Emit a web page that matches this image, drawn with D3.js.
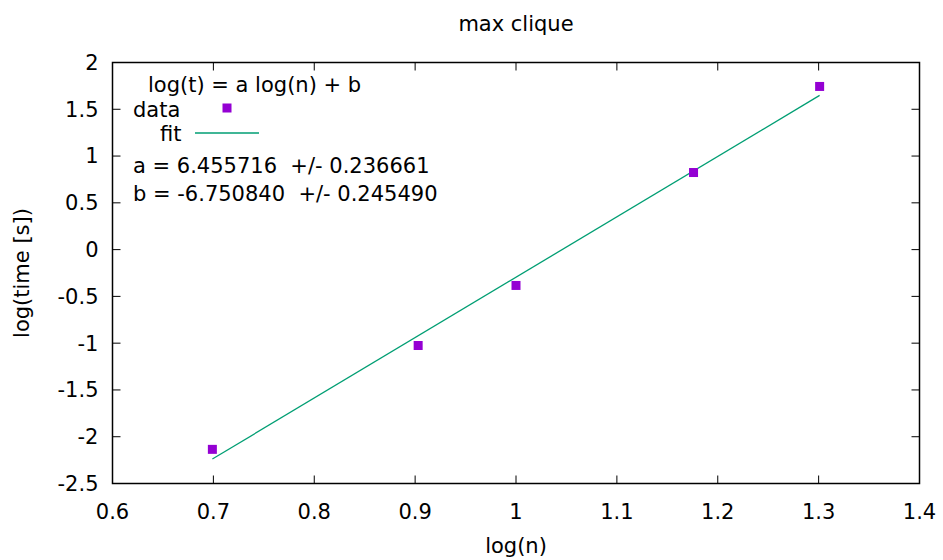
<!DOCTYPE html>
<html>
<head>
<meta charset="utf-8">
<script src="https://cdn.jsdelivr.net/npm/d3@7"></script>
<style>
  body { margin: 0; background: #fff; }
  text { font-family: "DejaVu Sans", sans-serif; font-size: 21px; fill: #000; }
</style>
</head>
<body>
<svg id="svg"></svg>
<script>
// data: log10(n) vs log10(time)
var logN = [0.699, 0.903, 1.0, 1.176, 1.301];
var logT = [-2.135, -1.025, -0.383, 0.824, 1.744];
// fit params
var fitA = 6.455716, fitAerr = 0.236661;
var fitB = -6.750840, fitBerr = 0.245490;
var xTicks = [0.6, 0.7, 0.8, 0.9, 1, 1.1, 1.2, 1.3, 1.4];
var yTicks = [-2.5, -2, -1.5, -1, -0.5, 0, 0.5, 1, 1.5, 2];

var width = 943, height = 560;
var margin = {left: 112.5, right: 23.5, top: 62.5, bottom: 76.5};
var w = width - margin.left - margin.right;
var h = height - margin.top - margin.bottom;

var svg = d3.select("#svg").attr("width", width).attr("height", height);
var container = svg.append("g").attr("transform", `translate(${margin.left}, ${margin.top})`);

var xScale = d3.scaleLinear().domain([0.6, 1.4]).range([0, w]);
var yScale = d3.scaleLinear().domain([-2.5, 2]).range([h, 0]);

// ticks (inward, mirrored)
var tl = 8;
xTicks.forEach(function(t) {
    var x = xScale(t);
    container.append("line").attr("x1", x).attr("x2", x).attr("y1", h).attr("y2", h - tl).attr("stroke", "#000");
    container.append("line").attr("x1", x).attr("x2", x).attr("y1", 0).attr("y2", tl).attr("stroke", "#000");
    container.append("text").attr("x", x).attr("y", h + 35).attr("text-anchor", "middle").text(t);
});
yTicks.forEach(function(t) {
    var y = yScale(t);
    container.append("line").attr("x1", 0).attr("x2", tl).attr("y1", y).attr("y2", y).attr("stroke", "#000");
    container.append("line").attr("x1", w).attr("x2", w - tl).attr("y1", y).attr("y2", y).attr("stroke", "#000");
    container.append("text").attr("x", -14).attr("y", y).attr("dy", "0.35em").attr("text-anchor", "end").text(t);
});

container.append("rect").attr("width", w).attr("height", h)
    .attr("fill", "none").attr("stroke", "#000").attr("stroke-width", 1.5);

// fit line
var fitX = [d3.min(logN), d3.max(logN)];
container.append("line")
    .attr("x1", xScale(fitX[0])).attr("y1", yScale(fitA * fitX[0] + fitB))
    .attr("x2", xScale(fitX[1])).attr("y2", yScale(fitA * fitX[1] + fitB))
    .attr("stroke", "#009e73").attr("stroke-width", 1.3);

// data points
container.selectAll(".pt")
    .data(d3.zip(logN, logT))
    .enter()
    .append("rect")
    .attr("x", d => xScale(d[0]) - 4.5)
    .attr("y", d => yScale(d[1]) - 4.5)
    .attr("width", 9).attr("height", 9)
    .attr("fill", "#9400d3");

// legend / labels
svg.append("text").attr("x", 148).attr("y", 92).text("log(t) = a log(n) + b");
svg.append("text").attr("x", 133).attr("y", 117).text("data");
svg.append("rect").attr("x", 222.5).attr("y", 103.5).attr("width", 9).attr("height", 9).attr("fill", "#9400d3");
svg.append("text").attr("x", 160).attr("y", 141).text("fit");
svg.append("line").attr("x1", 195).attr("x2", 259).attr("y1", 133).attr("y2", 133)
    .attr("stroke", "#009e73").attr("stroke-width", 1.3);
svg.append("text").attr("x", 133).attr("y", 173).attr("xml:space", "preserve")
    .text("a = " + fitA.toFixed(6) + "  +/- " + fitAerr.toFixed(6));
svg.append("text").attr("x", 133).attr("y", 201).attr("xml:space", "preserve")
    .text("b = " + fitB.toFixed(6) + "  +/- " + fitBerr.toFixed(6));

svg.append("text").attr("x", margin.left + w / 2).attr("y", 31).attr("text-anchor", "middle").text("max clique");
svg.append("text").attr("x", margin.left + w / 2).attr("y", 553).attr("text-anchor", "middle").text("log(n)");
svg.append("text").attr("transform", `translate(29, ${margin.top + h / 2}) rotate(-90)`)
    .attr("text-anchor", "middle").text("log(time [s])");
</script>
</body>
</html>
